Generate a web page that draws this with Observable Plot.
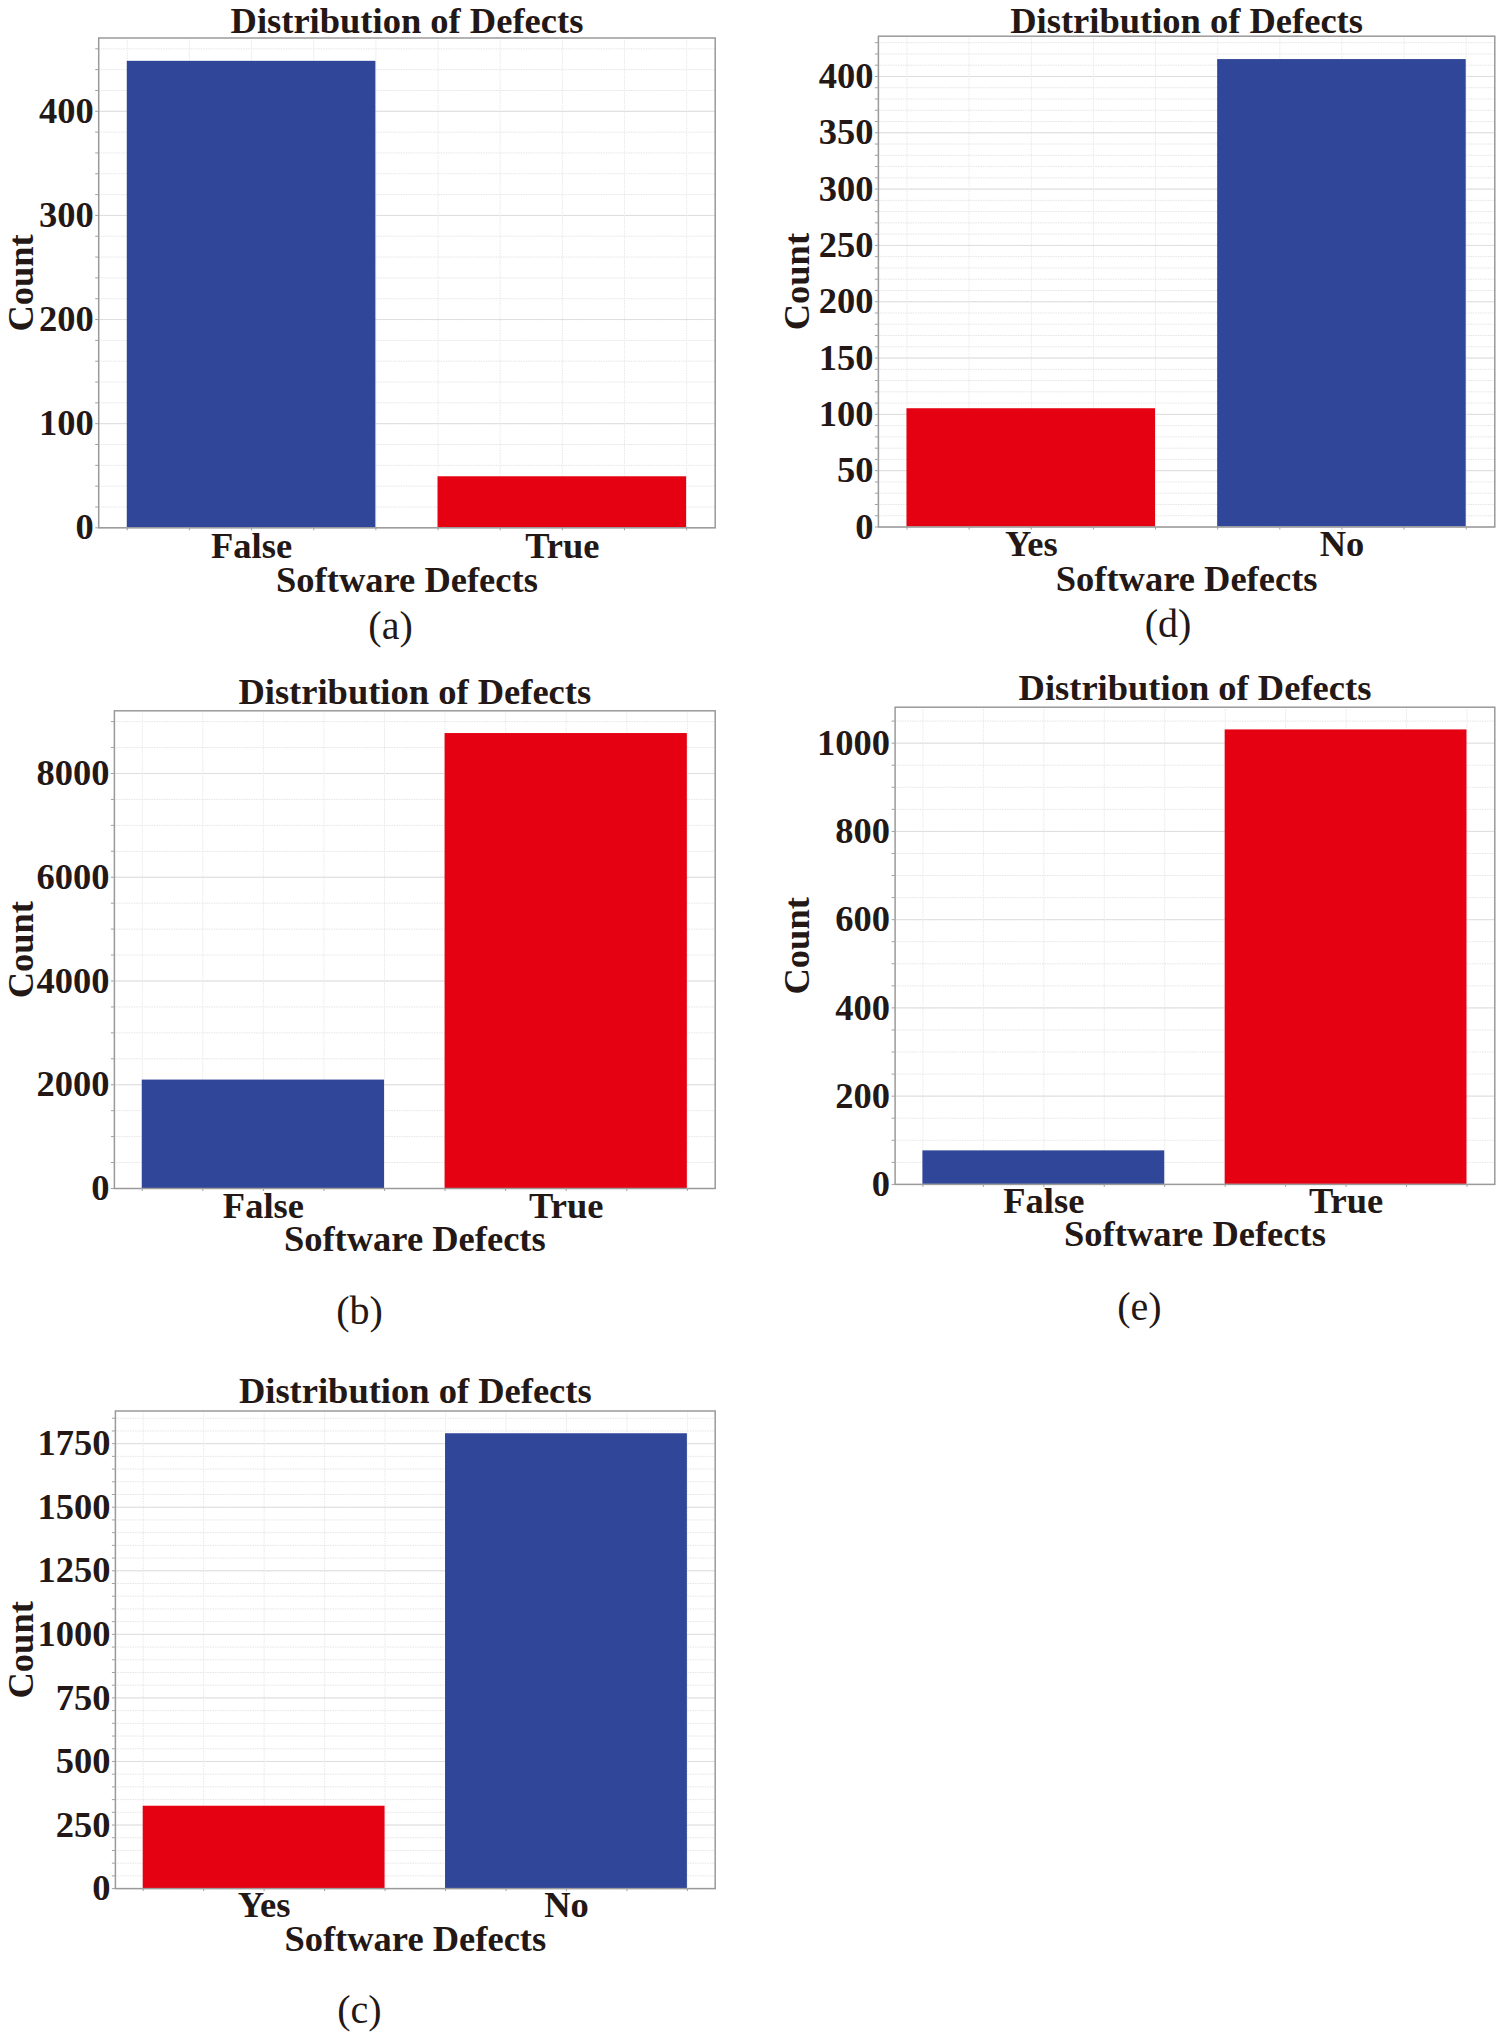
<!DOCTYPE html>
<html>
<head>
<meta charset="utf-8">
<script src="https://cdn.jsdelivr.net/npm/d3@7"></script>
<script src="https://cdn.jsdelivr.net/npm/@observablehq/plot@0.6"></script>
<style>
  html, body { margin: 0; padding: 0; background: #ffffff; }
  #page { position: relative; width: 1502px; height: 2037px; background: #ffffff; overflow: hidden; }
  .panel { position: absolute; }
</style>
</head>
<body>
<div id="page"></div>
<script>
// ---- Data ----
const titleText = "Distribution of Defects";
const xLabelText = "Software Defects";
const yLabelText = "Count";

const categoriesA = ["False", "True"];
const countsA = [448, 49];
const yTicksA = [0, 100, 200, 300, 400];
const minorStepA = 20;

const categoriesB = ["False", "True"];
const countsB = [2090, 8770];
const yTicksB = [0, 2000, 4000, 6000, 8000];
const minorStepB = 500;

const categoriesC = ["Yes", "No"];
const countsC = [324, 1789];
const yTicksC = [0, 250, 500, 750, 1000, 1250, 1500, 1750];
const minorStepC = 50;

const categoriesD = ["Yes", "No"];
const countsD = [105, 415];
const yTicksD = [0, 50, 100, 150, 200, 250, 300, 350, 400];
const minorStepD = 10;

const categoriesE = ["False", "True"];
const countsE = [76, 1030];
const yTicksE = [0, 200, 400, 600, 800, 1000];
const minorStepE = 50;

const colorDomain = ["False", "True", "Yes", "No"];
const colorRange = ["#2f4699", "#e50012", "#e50012", "#2f4699"];

// ---- Layout (positions/styles) ----
const layouts = {
  a: {left: 0,   top: 0,    width: 751, height: 660, mt: 37.5, mr: 36.3, mb: 132.7, ml: 98.2,
      titleGap: 5.2, tickBase: 30, xlabBase: 64.4, capBase: 110.7, capDx: -16.4, countDx: -77},
  d: {left: 751, top: 0,    width: 751, height: 660, mt: 35.7, mr: 7.7,  mb: 133.5, ml: 126.9,
      titleGap: 3.6, tickBase: 29, xlabBase: 64.3, capBase: 110, capDx: -18.6, countDx: -81.4},
  b: {left: 0,   top: 650,  width: 751, height: 700, mt: 60.3, mr: 36.3, mb: 162,   ml: 113.9,
      titleGap: 6.7, tickBase: 29, xlabBase: 62.4, capBase: 135.5, capDx: -55.3, countDx: -93},
  e: {left: 751, top: 650,  width: 751, height: 700, mt: 56.7, mr: 7.7,  mb: 166.1, ml: 143.6,
      titleGap: 7.6, tickBase: 28.6, xlabBase: 62, capBase: 135.5, capDx: -55.6, countDx: -98.1},
  c: {left: 0,   top: 1350, width: 751, height: 687, mt: 60.5, mr: 36.3, mb: 148.9, ml: 114.9,
      titleGap: 7.9, tickBase: 28, xlabBase: 62.3, capBase: 134.5, capDx: -55.8, countDx: -94}
};

const textColor = "#231815";
const fontFamily = "'Liberation Serif', 'Times New Roman', Times, serif";

function drawPanel(cats, counts, yTicks, minorStep, caption, L) {
  const rows = cats.map((c, i) => ({i, cat: c, count: counts[i]}));
  const yMax = d3.max(counts) * 1.05;
  const minor = d3.range(0, yMax, minorStep);
  const xGrid = d3.range(-2, 8).map(k => k * 0.2);

  const svg = Plot.plot({
    width: L.width,
    height: L.height,
    marginTop: L.mt, marginRight: L.mr, marginBottom: L.mb, marginLeft: L.ml,
    style: {fontFamily, fontWeight: "bold", fontSize: "36.5px", color: textColor, background: "transparent", overflow: "visible"},
    x: {domain: [-0.492, 1.492], axis: null},
    y: {domain: [0, yMax], axis: null},
    color: {domain: colorDomain, range: colorRange},
    marks: [
      Plot.gridY(minor, {stroke: "#e4e4e4", strokeOpacity: 1, strokeDasharray: "1.5,1"}),
      Plot.gridY(yTicks, {stroke: "#dedede", strokeOpacity: 1}),
      Plot.gridX(xGrid, {stroke: "#e8e8e8", strokeOpacity: 1, strokeDasharray: "1.5,1"}),
      Plot.rectY(rows, {x1: d => d.i - 0.4, x2: d => d.i + 0.4, y1: 0, y2: "count", fill: "cat"}),
      Plot.frame({stroke: "#9a9a9a", strokeWidth: 1.5}),
      Plot.axisY(minor, {tickSize: 3, tickFormat: () => "", stroke: "#a0a0a0", label: null}),
      Plot.axisY(yTicks, {tickSize: 0, tickPadding: 5, label: null, fill: textColor, tickFormat: d => String(d)}),
      Plot.axisX(xGrid, {tickSize: 3, tickFormat: () => "", stroke: "#a0a0a0", label: null}),
      Plot.text(rows, {x: "i", text: "cat", frameAnchor: "bottom", lineAnchor: "bottom", dy: L.tickBase, fill: textColor}),
      Plot.text([titleText], {frameAnchor: "top", lineAnchor: "bottom", dy: -L.titleGap, fill: textColor}),
      Plot.text([xLabelText], {frameAnchor: "bottom", lineAnchor: "bottom", dy: L.xlabBase, fill: textColor}),
      Plot.text([yLabelText], {frameAnchor: "left", textAnchor: "middle", rotate: -90, lineAnchor: "middle", dx: L.countDx, fill: textColor}),
      Plot.text([caption], {frameAnchor: "bottom", lineAnchor: "bottom", dy: L.capBase, dx: L.capDx,
        fontWeight: "normal", fontSize: 40, fill: textColor})
    ]
  });
  const wrap = document.createElement("div");
  wrap.className = "panel";
  wrap.style.left = L.left + "px";
  wrap.style.top = L.top + "px";
  wrap.appendChild(svg);
  document.getElementById("page").appendChild(wrap);
}

drawPanel(categoriesA, countsA, yTicksA, minorStepA, "(a)", layouts.a);
drawPanel(categoriesD, countsD, yTicksD, minorStepD, "(d)", layouts.d);
drawPanel(categoriesB, countsB, yTicksB, minorStepB, "(b)", layouts.b);
drawPanel(categoriesE, countsE, yTicksE, minorStepE, "(e)", layouts.e);
drawPanel(categoriesC, countsC, yTicksC, minorStepC, "(c)", layouts.c);
</script>
</body>
</html>
